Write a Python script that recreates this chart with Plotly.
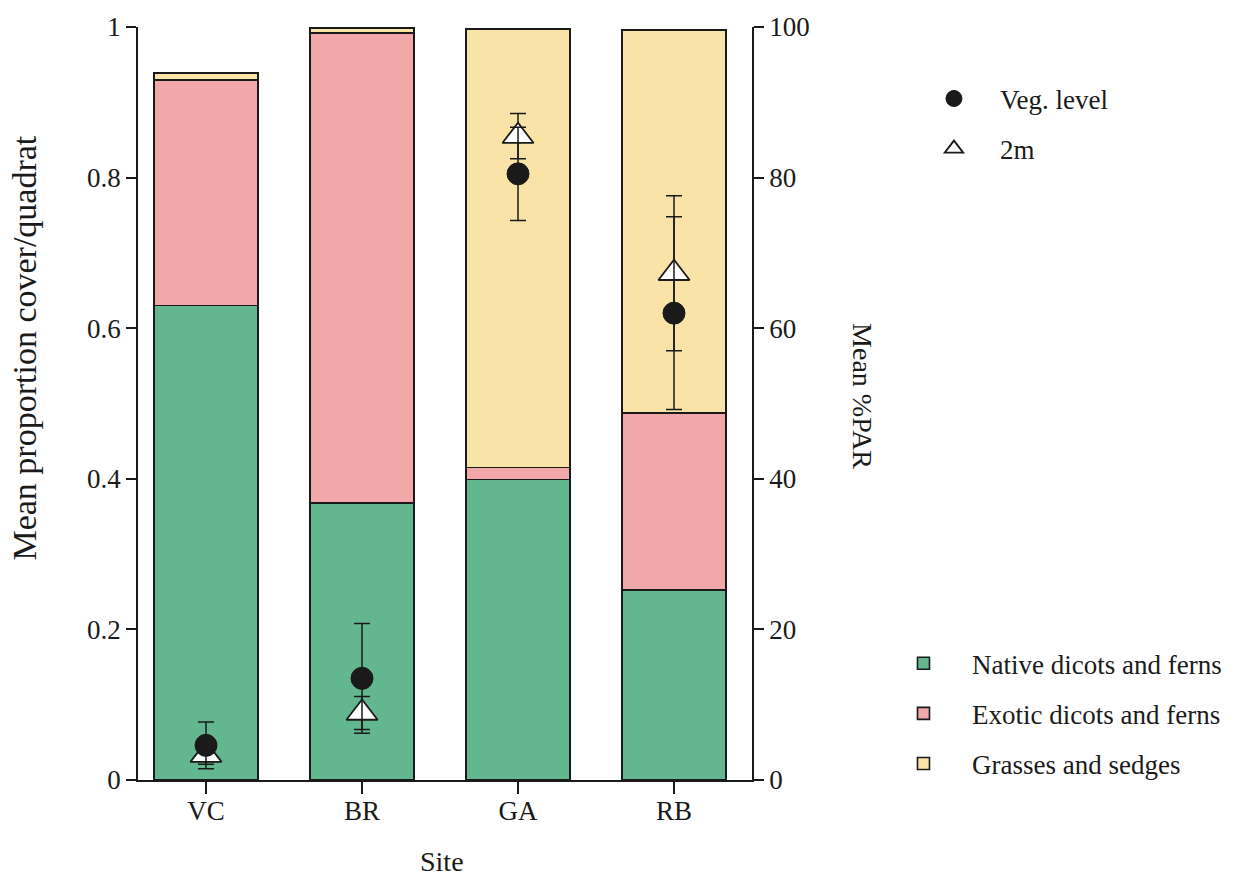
import plotly.graph_objects as go

# Site categories
sites = ["VC", "BR", "GA", "RB"]

# Mean proportion cover per quadrat, by vegetation group (stacked)
native_cover = [0.630, 0.368, 0.399, 0.252]
exotic_cover = [0.300, 0.624, 0.016, 0.235]
grass_cover = [0.009, 0.007, 0.582, 0.509]

# Mean %PAR with error (right axis)
par_veg = [4.6, 13.5, 80.5, 62.0]
par_veg_err = [3.1, 7.3, 6.2, 12.8]
par_2m = [3.3, 8.9, 85.5, 67.3]
par_2m_err = [1.2, 2.2, 3.0, 10.3]

ink = "#1a1a1a"
serif = "Liberation Serif, Times New Roman, serif"

green = "#63b78f"
pink = "#f2a7a8"
yellow = "#f9e3a7"

fig = go.Figure()

for rank, (name, vals, col) in enumerate([
    ("Native dicots and ferns", native_cover, green),
    ("Exotic dicots and ferns", exotic_cover, pink),
    ("Grasses and sedges", grass_cover, yellow),
]):
    fig.add_trace(go.Bar(
        x=sites, y=vals, name=name, width=0.665,
        marker=dict(color=col, line=dict(color=ink, width=1.6)),
        legend="legend2", legendgroup=name, legendrank=rank + 1,
        yaxis="y",
    ))

# PAR measured at 2 m (drawn first so the vegetation-level points sit on top)
fig.add_trace(go.Scatter(
    x=sites, y=par_2m, name="2m", mode="markers", yaxis="y2",
    marker=dict(symbol="triangle-up", size=27, color="white",
                line=dict(color=ink, width=1.8)),
    error_y=dict(type="data", array=par_2m_err, color=ink, thickness=1.5, width=8),
    legend="legend", legendgroup="2m", legendrank=2,
))
fig.add_trace(go.Scatter(
    x=sites, y=par_veg, name="Veg. level", mode="markers", yaxis="y2",
    marker=dict(symbol="circle", size=22, color=ink,
                line=dict(color=ink, width=1)),
    error_y=dict(type="data", array=par_veg_err, color=ink, thickness=1.5, width=8),
    legend="legend", legendgroup="veg", legendrank=1,
))

axis_common = dict(
    showline=True, linecolor=ink, linewidth=1.6,
    ticks="outside", tickcolor=ink, tickwidth=1.6,
    showgrid=False, zeroline=False,
    tickfont=dict(family=serif, size=27, color=ink),
)

fig.update_layout(
    width=1248, height=880,
    margin=dict(l=138, r=496, t=25, b=100),
    barmode="stack",
    plot_bgcolor="white", paper_bgcolor="white",
    font=dict(family=serif, size=27, color=ink),
    xaxis=dict(type="category", range=[-0.436, 3.5], ticklen=12,
               ticklabelstandoff=-6, **axis_common),
    yaxis=dict(range=[0, 1], tick0=0, dtick=0.2, ticklen=10, **axis_common),
    yaxis2=dict(range=[0, 100], tick0=0, dtick=20, ticklen=10, overlaying="y",
                side="right", anchor="x", **axis_common),
    legend=dict(
        x=1.254, xanchor="left", y=0.937, yanchor="top",
        traceorder="grouped", itemwidth=82, tracegroupgap=12,
        font=dict(family=serif, size=27, color=ink), bgcolor="rgba(0,0,0,0)",
    ),
    legend2=dict(
        x=1.2003, xanchor="left", y=0.187, yanchor="top",
        traceorder="grouped", itemwidth=87, tracegroupgap=12,
        font=dict(family=serif, size=27, color=ink), bgcolor="rgba(0,0,0,0)",
    ),
    annotations=[
        dict(text="Mean proportion cover/quadrat", xref="paper", yref="paper",
             x=-0.184, y=0.573, xanchor="center", yanchor="middle",
             textangle=-90, showarrow=False, font=dict(family=serif, size=34, color=ink)),
        dict(text="Mean %PAR", xref="paper", yref="paper",
             x=1.179, y=0.51, xanchor="center", yanchor="middle",
             textangle=90, showarrow=False, font=dict(family=serif, size=28, color=ink)),
        dict(text="Site", xref="paper", yref="paper",
             x=0.495, y=-0.1086, xanchor="center", yanchor="middle",
             showarrow=False, font=dict(family=serif, size=28, color=ink)),
    ],
)

fig.write_html("out.html")
